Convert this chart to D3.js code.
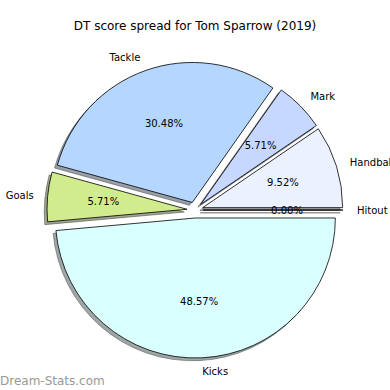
<!DOCTYPE html>
<html>
<head>
<meta charset="utf-8">
<script src="https://cdn.jsdelivr.net/npm/d3@7"></script>
<style>
  body { margin: 0; background: #fff; }
  svg { display: block; font-family: "DejaVu Sans", sans-serif; }
</style>
</head>
<body>
<svg id="chart" width="390" height="390"></svg>
<script>
// data, counter-clockwise from 3 o'clock
const categories = ['Hitout', 'Handball', 'Mark', 'Tackle', 'Goals', 'Kicks'];
const values = [0, 10, 6, 32, 6, 51];
const colours = ['#f0f4ff', '#ebf1ff', '#c6d8ff', '#b4d6ff', '#d1ec8c', '#d9ffff'];
const title = 'DT score spread for Tom Sparrow (2019)';

const width = 390, height = 390;
const cx = 195, cy = 210, r = 140;
const explode = 8;

const svg = d3.select('#chart');
const total = d3.sum(values);

//angulos como matplotlib: empieza a las 3 y gira al reves
const pie = d3.pie()
    .sort(null)
    .value(d => d.v)
    .startAngle(Math.PI / 2)
    .endAngle(Math.PI / 2 - 2 * Math.PI);

const arcs = pie(categories.map((c, i) => ({ name: c, v: values[i], col: colours[i] })));

const arc = d3.arc().innerRadius(0).outerRadius(r);

const offset = d => {
    const a = (d.startAngle + d.endAngle) / 2;
    return [cx + explode * Math.sin(a), cy - explode * Math.cos(a), a];
};

svg.append('text')
    .attr('x', width / 2)
    .attr('y', 30)
    .attr('text-anchor', 'middle')
    .attr('font-size', 12)
    .text(title);

const g = svg.append('g');

const shade = d => {
    const c = d3.rgb(d.data.col);
    return d3.rgb(c.r * 0.3, c.g * 0.3, c.b * 0.3);
};

// sombras
g.selectAll('.shadow')
    .data(arcs)
    .enter()
    .append('path')
    .attr('class', 'shadow')
    .attr('transform', d => {
        const o = offset(d);
        return 'translate(' + (o[0] - 2.8) + ',' + (o[1] + 2.8) + ')';
    })
    .attr('d', arc)
    .attr('fill', shade)
    .attr('fill-opacity', 0.5)
    .attr('stroke', shade)
    .attr('stroke-opacity', 0.5)
    .attr('stroke-width', 1);

g.selectAll('.wedge')
    .data(arcs)
    .enter()
    .append('path')
    .attr('class', 'wedge')
    .attr('transform', d => {
        const o = offset(d);
        return 'translate(' + o[0] + ',' + o[1] + ')';
    })
    .attr('d', arc)
    .attr('fill', d => d.data.col)
    .attr('stroke', '#000')
    .attr('stroke-width', 0.8)
    .attr('stroke-linejoin', 'round');

// etiquetas
g.selectAll('.label')
    .data(arcs)
    .enter()
    .append('text')
    .attr('class', 'label')
    .attr('x', d => { const o = offset(d); return o[0] + 1.1 * r * Math.sin(o[2]); })
    .attr('y', d => { const o = offset(d); return o[1] - 1.1 * r * Math.cos(o[2]); })
    .attr('dy', '0.35em')
    .attr('text-anchor', d => {
        const x = Math.sin(offset(d)[2]);
        return Math.abs(x) < 1e-6 ? 'middle' : (x > 0 ? 'start' : 'end');
    })
    .attr('font-size', 10)
    .text(d => d.data.name);

g.selectAll('.pct')
    .data(arcs)
    .enter()
    .append('text')
    .attr('class', 'pct')
    .attr('x', d => { const o = offset(d); return o[0] + 0.6 * r * Math.sin(o[2]); })
    .attr('y', d => { const o = offset(d); return o[1] - 0.6 * r * Math.cos(o[2]); })
    .attr('dy', '0.35em')
    .attr('text-anchor', 'middle')
    .attr('font-size', 10)
    .text(d => (d.data.v / total * 100).toFixed(2) + '%');

svg.append('text')
    .attr('x', 0)
    .attr('y', 385)
    .attr('font-size', 12)
    .attr('fill', '#999')
    .text('Dream-Stats.com');
</script>
</body>
</html>
